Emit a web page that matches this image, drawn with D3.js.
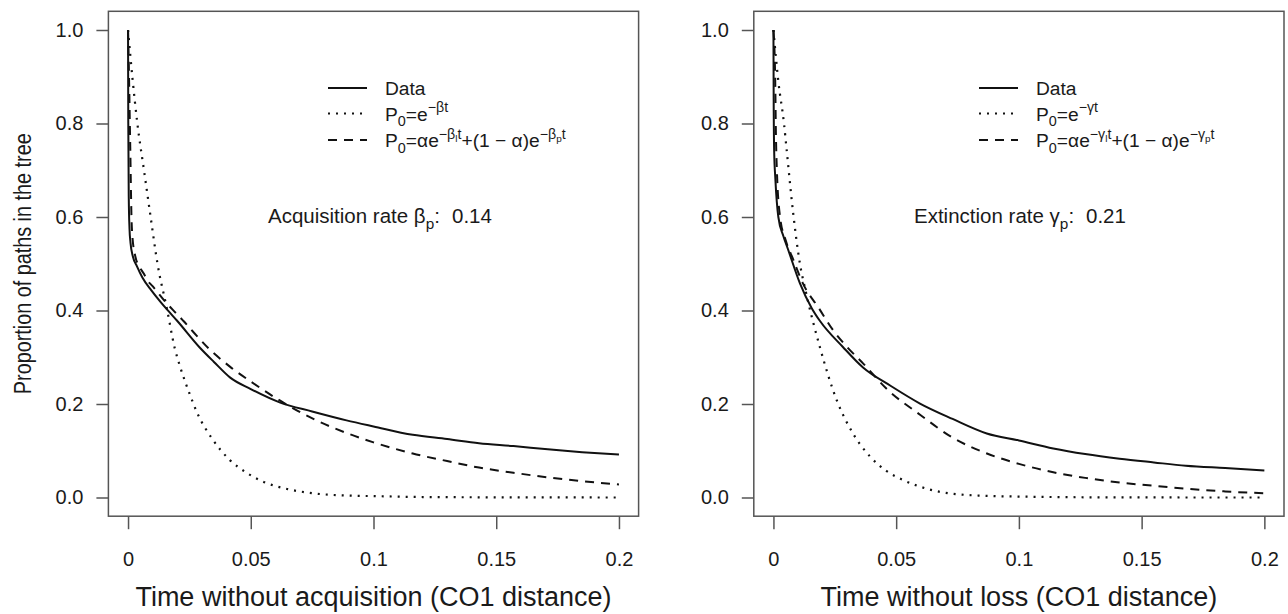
<!DOCTYPE html>
<html>
<head>
<meta charset="utf-8">
<script src="https://cdn.jsdelivr.net/npm/d3@7"></script>
<style>
  body { margin: 0; background: #fff; }
  svg text { font-family: "Liberation Sans", Arial, Helvetica, sans-serif; fill: #1a1a1a; }
</style>
</head>
<body>
<svg id="chart" width="1288" height="614"></svg>
<script>
'use strict';

// ticks
const xTicks = [0, 0.05, 0.1, 0.15, 0.2];
const xTickLabels = ["0", "0.05", "0.1", "0.15", "0.2"];
const yTicks = [0, 0.2, 0.4, 0.6, 0.8, 1.0];
const yTickLabels = ["0.0", "0.2", "0.4", "0.6", "0.8", "1.0"];

// left panel: acquisition, [t, proportion]
const acqData = [[0,1.0],[0.0001,0.8],[0.0003,0.64],[0.0006,0.575],[0.001,0.545],[0.002,0.515],
  [0.0036,0.495],[0.0059,0.47],[0.0095,0.443],[0.0133,0.418],[0.0166,0.398],[0.02,0.378],
  [0.029,0.322],[0.035,0.29],[0.0415,0.257],[0.05,0.232],[0.062,0.203],[0.075,0.184],
  [0.089,0.165],[0.1,0.152],[0.116,0.134],[0.13,0.125],[0.143,0.116],[0.157,0.11],
  [0.171,0.103],[0.185,0.097],[0.2,0.092]];
const acqSingle = [[0,1],[0.0018,0.897],[0.0038,0.8],[0.0065,0.7],[0.0092,0.6],[0.012,0.5],
  [0.0158,0.405],[0.019,0.32],[0.0212,0.28],[0.025,0.223],[0.028,0.183],[0.0345,0.124],
  [0.0415,0.08],[0.048,0.054],[0.055,0.034],[0.065,0.018],[0.0755,0.009],[0.09,0.004],
  [0.1,0.003],[0.12,0.001],[0.14,0.0005],[0.16,0.0002],[0.18,0.0001],[0.2,0]];
const acqDouble = [[0,1],[0.0004,0.9],[0.0009,0.75],[0.0014,0.6],[0.0018,0.557],[0.003,0.515],
  [0.0045,0.495],[0.0064,0.479],[0.0077,0.466],[0.01,0.452],[0.0158,0.415],[0.02,0.392],
  [0.0225,0.378],[0.033,0.318],[0.0415,0.28],[0.05,0.248],[0.062,0.207],[0.0755,0.168],
  [0.089,0.138],[0.1,0.118],[0.116,0.094],[0.13,0.078],[0.143,0.064],[0.157,0.053],
  [0.171,0.043],[0.185,0.035],[0.2,0.028]];

// right panel: extinction
const extData = [[0,1.0],[0.0001,0.85],[0.0003,0.74],[0.0008,0.68],[0.002,0.6],[0.004,0.56],
  [0.006,0.53],[0.0108,0.458],[0.0156,0.405],[0.0189,0.378],[0.0283,0.322],[0.0365,0.278],
  [0.048,0.238],[0.0597,0.201],[0.073,0.168],[0.0869,0.137],[0.1,0.122],[0.114,0.105],
  [0.127,0.093],[0.141,0.083],[0.155,0.075],[0.168,0.068],[0.184,0.063],[0.2,0.058]];
const extSingle = [[0,1],[0.002,0.89],[0.0043,0.8],[0.0054,0.743],[0.008,0.61],[0.0108,0.5],
  [0.0132,0.44],[0.0189,0.322],[0.0258,0.208],[0.0324,0.137],[0.0393,0.088],[0.046,0.057],
  [0.053,0.037],[0.063,0.018],[0.073,0.008],[0.09,0.003],[0.1,0.002],[0.12,0.0007],
  [0.15,0.0001],[0.2,0]];
const extDouble = [[0,1],[0.0007,0.9],[0.001,0.78],[0.0014,0.7],[0.0027,0.6],[0.005,0.55],
  [0.008,0.51],[0.012,0.458],[0.0185,0.405],[0.024,0.36],[0.03,0.322],[0.0365,0.287],
  [0.046,0.233],[0.06,0.176],[0.073,0.128],[0.087,0.094],[0.1,0.072],[0.114,0.054],
  [0.127,0.042],[0.141,0.032],[0.155,0.025],[0.168,0.019],[0.184,0.013],[0.2,0.009]];

// legend labels: [text, level]  n=normal, sub, sup, ss=subscript inside superscript
const acqLegend = [
  [["Data","n"]],
  [["P","n"],["0","sub"],["=e","n"],["\u2212\u03b2t","sup"]],
  [["P","n"],["0","sub"],["=\u03b1e","n"],["\u2212\u03b2","sup"],["l","ss"],["t","sup"],
   ["+(1 \u2212 \u03b1)e","n"],["\u2212\u03b2","sup"],["p","ss"],["t","sup"]]
];
const extLegend = [
  [["Data","n"]],
  [["P","n"],["0","sub"],["=e","n"],["\u2212\u03b3t","sup"]],
  [["P","n"],["0","sub"],["=\u03b1e","n"],["\u2212\u03b3","sup"],["l","ss"],["t","sup"],
   ["+(1 \u2212 \u03b1)e","n"],["\u2212\u03b3","sup"],["p","ss"],["t","sup"]]
];
const acqNote = [["Acquisition rate \u03b2","n"],["p","sub"],[":","n"]];
const extNote = [["Extinction rate \u03b3","n"],["p","sub"],[":","n"]];

const svg = d3.select("#chart");

function richText(g, x, y, segs, size) {
  const off = {n: 0, sub: 0.3 * size, sup: -0.42 * size, ss: -0.26 * size};
  const fs = {n: size, sub: size * 0.75, sup: size * 0.74, ss: size * 0.52};
  const t = g.append("text").attr("x", x).attr("y", y).attr("font-size", size)
    .attr("xml:space", "preserve");
  let prev = 0;
  segs.forEach(([s, k]) => {
    t.append("tspan").attr("dy", off[k] - prev).attr("font-size", fs[k]).text(s);
    prev = off[k];
  });
  return t;
}

const styles = [
  {width: 2, dash: null},
  {width: 2.2, dash: "2,6"},
  {width: 2, dash: "9,7"}
];

const drawPanel = (p) => {
  const x = d3.scaleLinear().domain([-0.008, 0.208]).range([p.left, p.right]);
  const y = d3.scaleLinear().domain([-0.04, 1.04]).range([516.2, 11.3]);
  const g = svg.append("g");

  // curves
  const line = d3.line().x(d => x(d[0])).y(d => y(d[1])).curve(d3.curveMonotoneX);
  p.series.forEach((s, i) => {
    g.append("path")
      .attr("d", line(s))
      .style("fill", "none")
      .style("stroke", "#111")
      .style("stroke-width", styles[i].width)
      .style("stroke-dasharray", styles[i].dash);
  });

  // box
  g.append("rect")
    .attr("x", p.left).attr("y", 11.3)
    .attr("width", p.right - p.left).attr("height", 516.2 - 11.3)
    .style("fill", "none").style("stroke", "#555").style("stroke-width", 1.5);

  // axes
  const xAxis = d3.axisBottom(x).tickValues(xTicks)
    .tickFormat((d, i) => xTickLabels[i]).tickSize(13).tickPadding(23);
  const gx = g.append("g").attr("transform", "translate(0,516.2)").call(xAxis);
  const yAxis = d3.axisLeft(y).tickValues(yTicks)
    .tickFormat((d, i) => yTickLabels[i]).tickSize(12).tickPadding(13);
  const gy = g.append("g").attr("transform", "translate(" + p.left + ",0)").call(yAxis);
  [gx, gy].forEach(a => {
    a.select(".domain").remove();
    a.selectAll("line").style("stroke", "#555").style("stroke-width", 1.5);
    a.selectAll("text").style("font-size", "20px").style("font-family", null);
  });

  // axis titles
  g.append("text")
    .attr("x", (p.left + p.right) / 2).attr("y", 606)
    .attr("text-anchor", "middle").attr("font-size", 27)
    .text(p.xTitle);
  if (p.yTitle) {
    g.append("text")
      .attr("transform", "translate(31," + (11.3 + 516.2) / 2 + ") rotate(-90) scale(1,1.25)")
      .attr("text-anchor", "middle").attr("font-size", 19.8)
      .text(p.yTitle);
  }

  // legend
  const rows = [88, 113.5, 140];
  p.legend.forEach((segs, i) => {
    g.append("line")
      .attr("x1", p.legX).attr("x2", p.legX + 39)
      .attr("y1", rows[i]).attr("y2", rows[i])
      .style("stroke", "#111")
      .style("stroke-width", styles[i].width)
      .style("stroke-dasharray", styles[i].dash);
    richText(g, p.legX + 57, rows[i] + 7, segs, 19.2);
  });

  // rate annotation
  richText(g, p.noteX, 223, p.note, 20.5);
  g.append("text").attr("x", p.valX).attr("y", 223).attr("font-size", 20.5).text(p.value);
};

drawPanel({
  left: 108.4, right: 638.6,
  series: [acqData, acqSingle, acqDouble],
  xTitle: "Time without acquisition (CO1 distance)",
  yTitle: "Proportion of paths in the tree",
  legend: acqLegend, legX: 328,
  note: acqNote, noteX: 268, valX: 452, value: "0.14"
});

drawPanel({
  left: 753.8, right: 1284,
  series: [extData, extSingle, extDouble],
  xTitle: "Time without loss (CO1 distance)",
  yTitle: null,
  legend: extLegend, legX: 979,
  note: extNote, noteX: 914, valX: 1086, value: "0.21"
});
</script>
</body>
</html>
